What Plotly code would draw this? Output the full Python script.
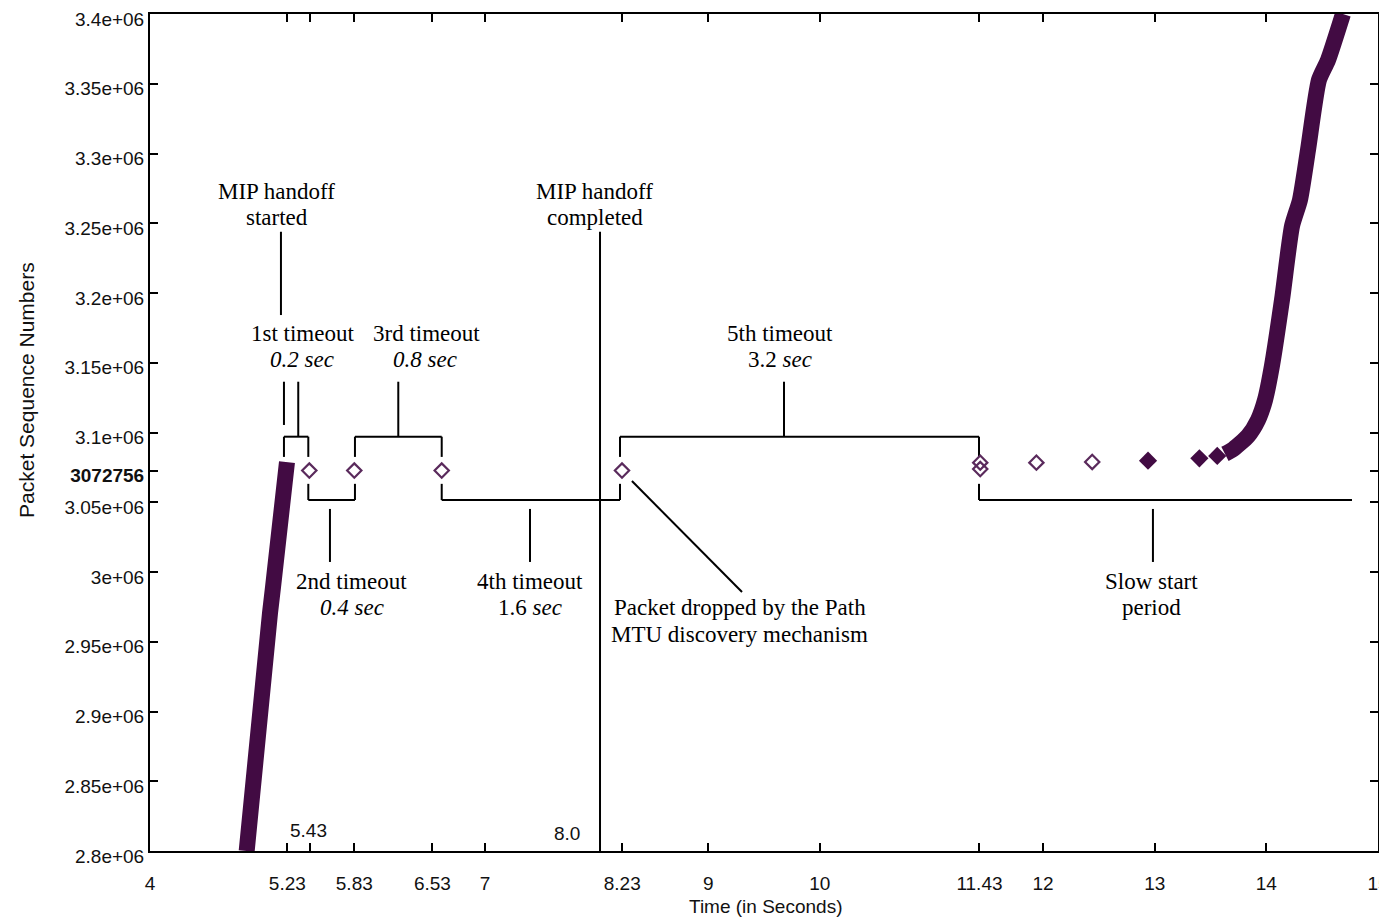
import plotly.graph_objects as go

# ---------------- data ----------------
handoff_t = [4.866, 4.967, 5.075, 5.102, 5.164, 5.227]
handoff_seq = [2.800e6, 2.8989e6, 2.9706e6, 2.9892e6, 3.0373e6, 3.0788e6]

retx_open_t = [5.427, 5.83, 6.613, 8.228, 11.437, 11.437, 11.94, 12.44]
retx_open_seq = [3072756, 3072756, 3072756, 3072756, 3.0784e6, 3.0738e6, 3.0784e6, 3.0789e6]

retx_fill_t = [12.94, 13.40, 13.56]
retx_fill_seq = [3.0798e6, 3.0815e6, 3.0832e6]

slowstart_t = [13.629, 13.692, 13.835, 13.925, 13.988, 14.050, 14.140, 14.230,
               14.301, 14.373, 14.471, 14.552, 14.686]
slowstart_seq = [3.0846e6, 3.0874e6, 3.0975e6, 3.1090e6, 3.1233e6, 3.1477e6, 3.1950e6,
                 3.2480e6, 3.2667e6, 3.3025e6, 3.3527e6, 3.3670e6, 3.4000e6]

# timeout bracket (annotation guide) values
bracket_t = [5.20, 5.418, 5.836, 6.613, 8.21, 11.426, 14.767]
bracket_levels = ["hi", "lo", "hi", "lo", "hi", "lo"]
level_hi = 3.097e6
level_lo = 3.0516e6
gap_top = 3.0825e6
gap_bot = 3.0632e6

# pointer lines (x, y_start, y_end)
pointer_x = [5.173, 5.200, 5.328, 6.224, 9.679, 5.612, 7.404, 12.984, 8.031]
pointer_y0 = [3.2439e6, 3.1364e6, 3.1364e6, 3.1364e6, 3.1364e6, 3.0452e6, 3.0452e6, 3.0452e6, 3.2439e6]
pointer_y1 = [3.1842e6, 3.1054e6, level_hi, level_hi, level_hi, 3.0072e6, 3.0072e6, 3.0072e6, 2.800e6]
diag_t = [8.317, 9.303]
diag_seq = [3.0652e6, 2.9857e6]

x_tickvals = [4, 5.23, 5.43, 5.83, 6.53, 7, 8.23, 9, 10, 11.43, 12, 13, 14, 15]
x_ticktext = ["4", "5.23", "", "5.83", "6.53", "7", "8.23", "9", "10", "11.43", "12", "13", "14", "15"]
y_tickvals = [2.8e6, 2.85e6, 2.9e6, 2.95e6, 3.0e6, 3.05e6, 3072756, 3.1e6, 3.15e6, 3.2e6,
              3.25e6, 3.3e6, 3.35e6, 3.4e6]
y_ticktext = ["2.8e+06", "2.85e+06", "2.9e+06", "2.95e+06", "3e+06", "3.05e+06", "<b>3072756</b>",
              "3.1e+06", "3.15e+06", "3.2e+06", "3.25e+06", "3.3e+06", "3.35e+06", "3.4e+06"]

# serif labels: (text, x, y)
labels = [
    ("MIP handoff", 5.129, 3.2726e6), ("started", 5.138, 3.2538e6),
    ("MIP handoff", 7.986, 3.2726e6), ("completed", 7.986, 3.2538e6),
    ("1st timeout", 5.362, 3.1713e6), ("<i>0.2 sec</i>", 5.362, 3.1520e6),
    ("3rd timeout", 6.481, 3.1713e6), ("<i>0.8 sec</i>", 6.463, 3.1520e6),
    ("5th timeout", 9.643, 3.1713e6), ("3.2 <i>sec</i>", 9.643, 3.1520e6),
    ("2nd timeout", 5.809, 2.9930e6), ("<i>0.4 sec</i>", 5.809, 2.9742e6),
    ("4th timeout", 7.404, 2.9930e6), ("1.6 <i>sec</i>", 7.404, 2.9742e6),
    ("Packet dropped by the Path", 9.283, 2.9742e6), ("MTU discovery mechanism", 9.283, 2.9549e6),
    ("Slow start", 12.975, 2.9930e6), ("period", 12.975, 2.9742e6),
]
inner_ticks = [("5.43", 5.424, 2.8150e6), ("8.0", 7.735, 2.8129e6)]

PURPLE = "#420b43"
SERIF = "Liberation Serif, Times New Roman, serif"
SANS = "Liberation Sans, Arial, sans-serif"

# ---------------- build black guide lines ----------------
lx, ly = [], []
def seg(x0, y0, x1, y1):
    lx.extend([x0, x1, None]); ly.extend([y0, y1, None])

lev = {"hi": level_hi, "lo": level_lo}
for i, l in enumerate(bracket_levels):
    seg(bracket_t[i], lev[l], bracket_t[i + 1], lev[l])
seg(bracket_t[0], gap_top, bracket_t[0], level_hi)
for t in bracket_t[1:-1]:
    seg(t, level_hi, t, gap_top)
    seg(t, gap_bot, t, level_lo)
for x, a, b in zip(pointer_x, pointer_y0, pointer_y1):
    seg(x, a, x, b)
seg(diag_t[0], diag_seq[0], diag_t[1], diag_seq[1])

fig = go.Figure()
fig.add_trace(go.Scatter(x=lx, y=ly, mode="lines", line=dict(color="black", width=2),
                         hoverinfo="skip", showlegend=False))
fig.add_trace(go.Scatter(x=handoff_t, y=handoff_seq, mode="lines",
                         line=dict(color=PURPLE, width=16), showlegend=False))
fig.add_trace(go.Scatter(x=slowstart_t, y=slowstart_seq, mode="lines",
                         line=dict(color=PURPLE, width=16, shape="spline", smoothing=0.6),
                         showlegend=False))
fig.add_trace(go.Scatter(x=retx_open_t, y=retx_open_seq, mode="markers",
                         marker=dict(symbol="diamond-open", size=11, color="#5a2a5c",
                                     line=dict(width=2.2)), showlegend=False))
fig.add_trace(go.Scatter(x=retx_fill_t, y=retx_fill_seq, mode="markers",
                         marker=dict(symbol="diamond", size=14, color=PURPLE), showlegend=False))

ann = []
for t, x, y in labels:
    ann.append(dict(x=x, y=y, text=t, showarrow=False, xref="x", yref="y",
                    xanchor="center", yanchor="middle",
                    font=dict(family=SERIF, size=23, color="black")))
for t, x, y in inner_ticks:
    ann.append(dict(x=x, y=y, text=t, showarrow=False, xref="x", yref="y",
                    xanchor="center", yanchor="middle",
                    font=dict(family=SANS, size=19, color="#111")))
ann.append(dict(x=-0.1002, y=0.5508, xref="paper", yref="paper", text="Packet Sequence Numbers",
                textangle=-90, showarrow=False, xanchor="center", yanchor="middle",
                font=dict(family=SANS, size=21, color="#111")))
ann.append(dict(x=0.5016, y=-0.0669, xref="paper", yref="paper", text="Time (in Seconds)",
                showarrow=False, xanchor="center", yanchor="middle",
                font=dict(family=SANS, size=19, color="#111")))

# page body has an 8px margin, so the figure is shifted by 8px; compensate
fig.update_layout(
    width=1379, height=910,
    margin=dict(l=142, r=9, t=6, b=67, autoexpand=False),
    paper_bgcolor="white", plot_bgcolor="white",
    annotations=ann,
    xaxis=dict(range=[4, 15], tickvals=x_tickvals, ticktext=x_ticktext, ticks="inside",
               ticklen=8, tickwidth=2, tickcolor="black", showline=True, linecolor="black",
               linewidth=2, mirror="ticks", showgrid=False, zeroline=False, automargin=False,
               ticklabelstandoff=14, ticklabeloverflow="allow",
               tickfont=dict(family=SANS, size=19, color="#111")),
    yaxis=dict(range=[2.8e6, 3.4e6], tickvals=y_tickvals, ticktext=y_ticktext, ticks="inside",
               ticklen=8, tickwidth=2, tickcolor="black", showline=True, linecolor="black",
               linewidth=2, mirror="ticks", showgrid=False, zeroline=False, automargin=False,
               ticklabeloverflow="allow", ticklabelshift=5,
               tickfont=dict(family=SANS, size=19, color="#111")),
)

fig.write_html("out.html")
